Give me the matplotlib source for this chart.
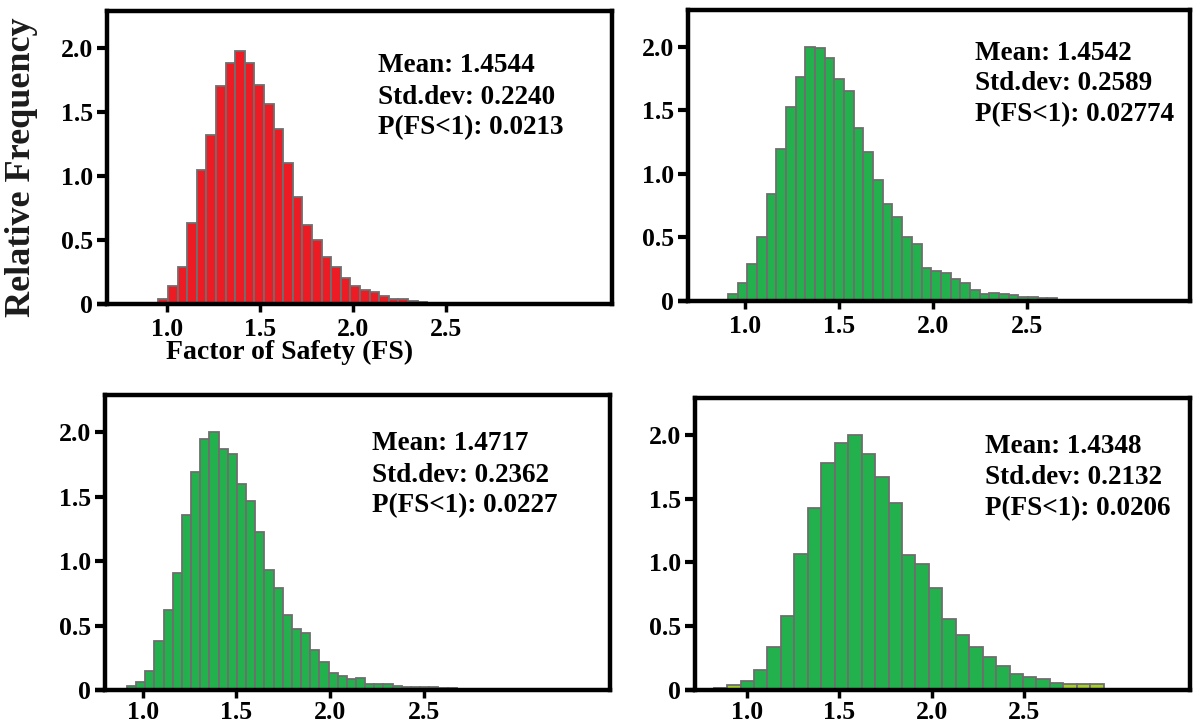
import matplotlib
matplotlib.use("Agg")
import matplotlib.pyplot as plt
import numpy as np

plt.rcParams["font.family"] = ["Liberation Serif", "DejaVu Serif"]
plt.rcParams["font.weight"] = "bold"

# ---- data (relative frequency per bin) ----
p1_start, p1_width = 0.953, 0.0516
p1_heights = [0.04, 0.14, 0.29, 0.63, 1.05, 1.32, 1.70, 1.88, 1.98, 1.88,
              1.71, 1.56, 1.37, 1.10, 0.84, 0.62, 0.50, 0.37, 0.29, 0.20,
              0.14, 0.11, 0.09, 0.065, 0.04, 0.04, 0.025, 0.015, 0.01]

p2_start, p2_width = 0.909, 0.0515
p2_heights = [0.057, 0.14, 0.29, 0.50, 0.84, 1.20, 1.53, 1.76, 2.00, 1.99,
              1.91, 1.75, 1.65, 1.36, 1.17, 0.95, 0.76, 0.66, 0.50, 0.45,
              0.26, 0.24, 0.22, 0.17, 0.14, 0.086, 0.057, 0.065, 0.055, 0.05,
              0.034, 0.03, 0.026, 0.026, 0.01, 0.008, 0.006, 0.005]

p3_start, p3_width = 0.914, 0.049
p3_heights = [0.034, 0.063, 0.15, 0.38, 0.62, 0.91, 1.36, 1.69, 1.95, 2.00,
              1.87, 1.83, 1.60, 1.47, 1.23, 0.93, 0.79, 0.58, 0.47, 0.44,
              0.31, 0.22, 0.13, 0.11, 0.086, 0.094, 0.047, 0.047, 0.047, 0.034,
              0.02, 0.026, 0.026, 0.02, 0.013, 0.015, 0.008, 0.006]

p4_start, p4_width = 0.82, 0.0727
p4_heights = [0.013, 0.04, 0.073, 0.16, 0.34, 0.58, 1.07, 1.43, 1.78, 1.94,
              2.00, 1.85, 1.67, 1.47, 1.06, 0.99, 0.80, 0.56, 0.43, 0.34,
              0.26, 0.19, 0.125, 0.10, 0.083, 0.052, 0.044, 0.044, 0.044, 0.008,
              0.008, 0.008]
p4_light = [1, 26, 27, 28]   # yellow-green bars

stat_names = ["Mean", "Std.dev", "P(FS<1)"]
stats = [
    ("1.4544", "0.2240", "0.0213"),
    ("1.4542", "0.2589", "0.02774"),
    ("1.4717", "0.2362", "0.0227"),
    ("1.4348", "0.2132", "0.0206"),
]

xticks = [1.0, 1.5, 2.0, 2.5]
yticks = [0, 0.5, 1.0, 1.5, 2.0]
ytick_labels = ["0", "0.5", "1.0", "1.5", "2.0"]

RED = "#ed1c24"
GREEN = "#22b14c"
LIGHT = "#a6cf2c"
EDGE = "#6e6e6e"

W, H = 1195, 726
fig = plt.figure(figsize=(W / 100, H / 100), dpi=100)


def box(l, r, t, b):
    return [l / W, 1 - b / H, (r - l) / W, (b - t) / H]


# pixel layout: frame box, x limits, left x / first-line y of the stats block
panels = [
    dict(rect=box(107, 612, 11, 304), xlim=(0.677, 3.39),
         start=p1_start, width=p1_width, heights=p1_heights, txt=(378, 66)),
    dict(rect=box(688, 1190, 10, 301), xlim=(0.697, 3.367),
         start=p2_start, width=p2_width, heights=p2_heights, txt=(975, 53)),
    dict(rect=box(105, 610, 395, 690), xlim=(0.797, 3.497),
         start=p3_start, width=p3_width, heights=p3_heights, txt=(372, 444)),
    dict(rect=box(695, 1190, 398, 690), xlim=(0.719, 3.395),
         start=p4_start, width=p4_width, heights=p4_heights, txt=(985, 447)),
]

for i, p in enumerate(panels):
    ax = fig.add_axes(p["rect"])
    edges = p["start"] + p["width"] * np.arange(len(p["heights"]))
    colors = [RED if i == 0 else GREEN] * len(edges)
    if i == 3:
        for k in p4_light:
            colors[k] = LIGHT
    ax.bar(edges, p["heights"], width=p["width"], align="edge",
           color=colors, edgecolor=EDGE, linewidth=1.3, zorder=2)

    ax.set_xlim(*p["xlim"])
    ax.set_ylim(0, 2.29)
    ax.set_xticks(xticks)
    ax.set_xticklabels([f"{v:.1f}" for v in xticks])
    ax.set_yticks(yticks)
    ax.set_yticklabels(ytick_labels)
    for s in ax.spines.values():
        s.set_linewidth(3.2)
        s.set_color("black")
    ax.tick_params(axis="y", direction="out", length=7, width=3,
                   labelsize=18.5, pad=3)
    ax.tick_params(axis="x", direction="out", length=6, width=2.5,
                   labelsize=18.5, pad=4 if i < 2 else 2)
    for lab in ax.get_xticklabels() + ax.get_yticklabels():
        lab.set_fontweight("bold")
    # bottom axis line runs a little past the left spine
    ax.plot([-0.02, 0], [0, 0], transform=ax.transAxes, color="black",
            lw=3.2, clip_on=False, solid_capstyle="butt")

    tx, ty = p["txt"]
    for j, (name, val) in enumerate(zip(stat_names, stats[i])):
        fig.text(tx / W, 1 - (ty + 31 * j) / H, f"{name}: {val}",
                 ha="left", va="center", fontsize=19.5, fontweight="bold")

fig.text(290 / W, 1 - 352 / H, "Factor of Safety (FS)", ha="center",
         va="center", fontsize=20, fontweight="bold")

fig.text(22 / W, 1 - 167 / H, "Relative Frequency", rotation=90,
         ha="center", va="center", fontsize=26, fontweight="bold",
         color="#1c1c1c")

fig.savefig("out.png", dpi=100)
